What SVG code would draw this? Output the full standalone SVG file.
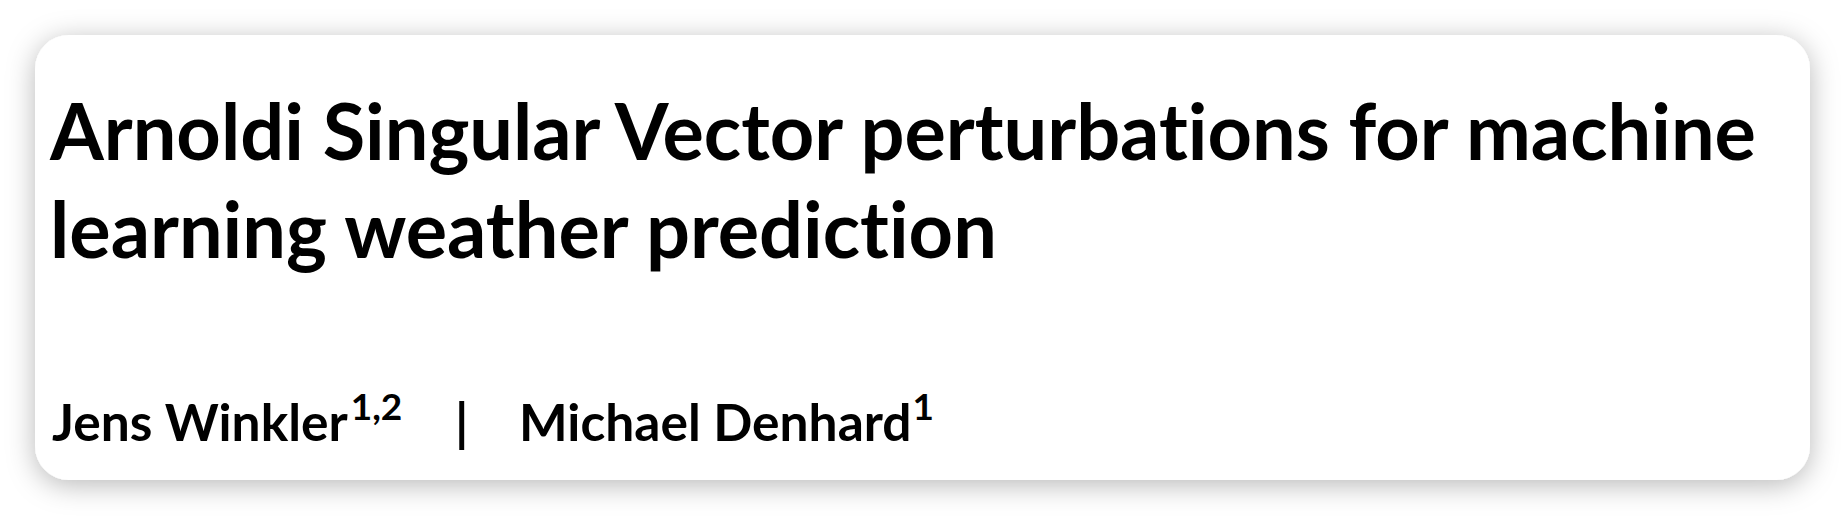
<svg xmlns="http://www.w3.org/2000/svg" width="1846" height="518" viewBox="0 0 1846 518">
  <defs>
    <filter id="shadow" x="-10%" y="-30%" width="120%" height="160%">
      <feDropShadow dx="0" dy="5" stdDeviation="14" flood-color="#000" flood-opacity="0.28"/>
    </filter>
    <style>
      text { font-variant-ligatures: no-common-ligatures; font-feature-settings: "liga" 0, "clig" 0, "dlig" 0; }
      .title { font-family: Lato, "Liberation Sans", sans-serif; font-weight: 700; font-size: 77.5px; fill: #000; }
      .author { font-family: Lato, "Liberation Sans", sans-serif; font-weight: 700; font-size: 51.5px; fill: #000; }
      .sup { font-size: 37px; }
    </style>
  </defs>
  <rect x="0" y="0" width="1846" height="518" fill="#fff"/>
  <g id="card">
    <rect x="35" y="35" width="1775" height="445" rx="34" ry="34" fill="#fff" filter="url(#shadow)"/>
  </g>
  <g id="title">
    <text class="title" x="50" y="160">Arnoldi Singular Vector perturbations for machine</text>
    <text class="title" x="50" y="258">learning weather prediction</text>
  </g>
  <g id="authors">
    <text class="author" x="52" y="441">Jens Winkler<tspan class="sup" dx="3" dy="-21">1,2</tspan></text>
    <text class="author" x="455" y="441">|</text>
    <text class="author" x="519" y="441">Michael Denhard<tspan class="sup" dx="1" dy="-21">1</tspan></text>
  </g>
</svg>
